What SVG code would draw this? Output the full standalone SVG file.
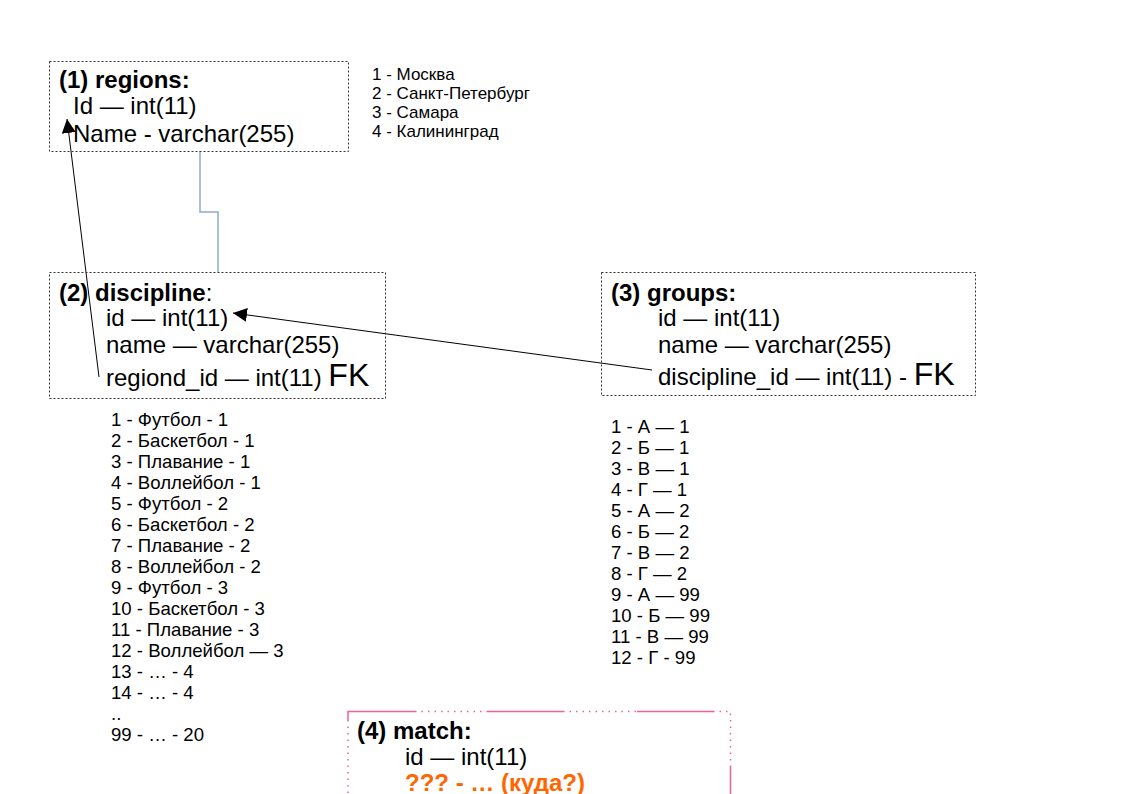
<svg xmlns="http://www.w3.org/2000/svg" width="1123" height="794" viewBox="0 0 1123 794">
<defs>
<style>
text{font-family:"Liberation Sans",Arial,sans-serif;fill:#000}
.h{font-size:24px;font-weight:bold}
.b{font-size:24px}
.fk{font-size:32px}
.r{font-size:17px}
.l{font-size:18.6px}
.box{fill:none;stroke:#333;stroke-width:1;stroke-dasharray:2,2}
.pk{fill:none;stroke:#f06292;stroke-width:1.5}
.pkd{fill:none;stroke:#f06292;stroke-width:1.5;stroke-dasharray:1.5,5}
</style>
<marker id="ah" viewBox="0 0 10 10" refX="10" refY="5" markerWidth="14" markerHeight="14" markerUnits="userSpaceOnUse" orient="auto"><path d="M0,0 L10,5 L0,10 z" fill="#000"/></marker>
</defs>
<rect width="1123" height="794" fill="#fff"/>
<g id="connectors">
<polyline points="200,151 200,212 218,212 218,272" fill="none" stroke="#8eaad3" stroke-width="1.5"/>
<line x1="99" y1="377" x2="67" y2="119" stroke="#000" stroke-width="1" marker-end="url(#ah)"/>
<line x1="652" y1="370" x2="233" y2="313" stroke="#000" stroke-width="1" marker-end="url(#ah)"/>
</g>
<g id="regions">
<rect class="box" x="49.5" y="61.5" width="299" height="90"/>
<text class="h" x="59" y="88">(1) regions:</text>
<text class="b" x="73" y="114">Id — int(11)</text>
<text class="b" x="73" y="142">Name - varchar(255)</text>
</g>
<g id="regions-list">
<text class="r" x="372" y="80">1 - Москва</text>
<text class="r" x="372" y="99">2 - Санкт-Петербург</text>
<text class="r" x="372" y="118">3 - Самара</text>
<text class="r" x="372" y="137">4 - Калининград</text>
</g>
<g id="discipline">
<rect class="box" x="49.5" y="272.5" width="336" height="126"/>
<text class="b" x="59" y="301"><tspan font-weight="bold">(2) discipline</tspan>:</text>
<text class="b" x="106" y="326">id — int(11)</text>
<text class="b" x="106" y="353">name — varchar(255)</text>
<text class="b" x="106" y="386">regiond_id — int(11) <tspan class="fk">FK</tspan></text>
</g>
<g id="discipline-list">
<text class="l" x="111" y="426">1 - Футбол - 1</text>
<text class="l" x="111" y="447">2 - Баскетбол - 1</text>
<text class="l" x="111" y="468">3 - Плавание - 1</text>
<text class="l" x="111" y="489">4 - Воллейбол - 1</text>
<text class="l" x="111" y="510">5 - Футбол - 2</text>
<text class="l" x="111" y="531">6 - Баскетбол - 2</text>
<text class="l" x="111" y="552">7 - Плавание - 2</text>
<text class="l" x="111" y="573">8 - Воллейбол - 2</text>
<text class="l" x="111" y="594">9 - Футбол - 3</text>
<text class="l" x="111" y="615">10 - Баскетбол - 3</text>
<text class="l" x="111" y="636">11 - Плавание - 3</text>
<text class="l" x="111" y="657">12 - Воллейбол — 3</text>
<text class="l" x="111" y="678">13 - … - 4</text>
<text class="l" x="111" y="699">14 - … - 4</text>
<text class="l" x="111" y="720">..</text>
<text class="l" x="111" y="741">99 - … - 20</text>
</g>
<g id="groups">
<rect class="box" x="601.5" y="272.5" width="374" height="123"/>
<text class="h" x="611" y="301">(3) groups:</text>
<text class="b" x="658" y="326">id — int(11)</text>
<text class="b" x="658" y="353">name — varchar(255)</text>
<text class="b" x="658" y="385">discipline_id — int(11) - <tspan class="fk">FK</tspan></text>
</g>
<g id="groups-list">
<text class="l" x="611" y="433">1 - А — 1</text>
<text class="l" x="611" y="454">2 - Б — 1</text>
<text class="l" x="611" y="475">3 - В — 1</text>
<text class="l" x="611" y="496">4 - Г — 1</text>
<text class="l" x="611" y="517">5 - А — 2</text>
<text class="l" x="611" y="538">6 - Б — 2</text>
<text class="l" x="611" y="559">7 - В — 2</text>
<text class="l" x="611" y="580">8 - Г — 2</text>
<text class="l" x="611" y="601">9 - А — 99</text>
<text class="l" x="611" y="622">10 - Б — 99</text>
<text class="l" x="611" y="643">11 - В — 99</text>
<text class="l" x="611" y="664">12 - Г - 99</text>
</g>
<g id="match">
<path class="pk" d="M348,720 V711.5 H415 M488,711.5 H563 M637,711.5 H713 M730.5,766 V794"/>
<path class="pkd" d="M415,711.5 H488 M563,711.5 H637 M713,711.5 H730.5 V766 M348,720 V794"/>
<text class="h" x="357" y="739">(4) match:</text>
<text class="b" x="405" y="765">id — int(11)</text>
<text class="b" x="405" y="791" font-weight="bold" style="fill:#ff6600">??? - … (куда?)</text>
</g>
</svg>
